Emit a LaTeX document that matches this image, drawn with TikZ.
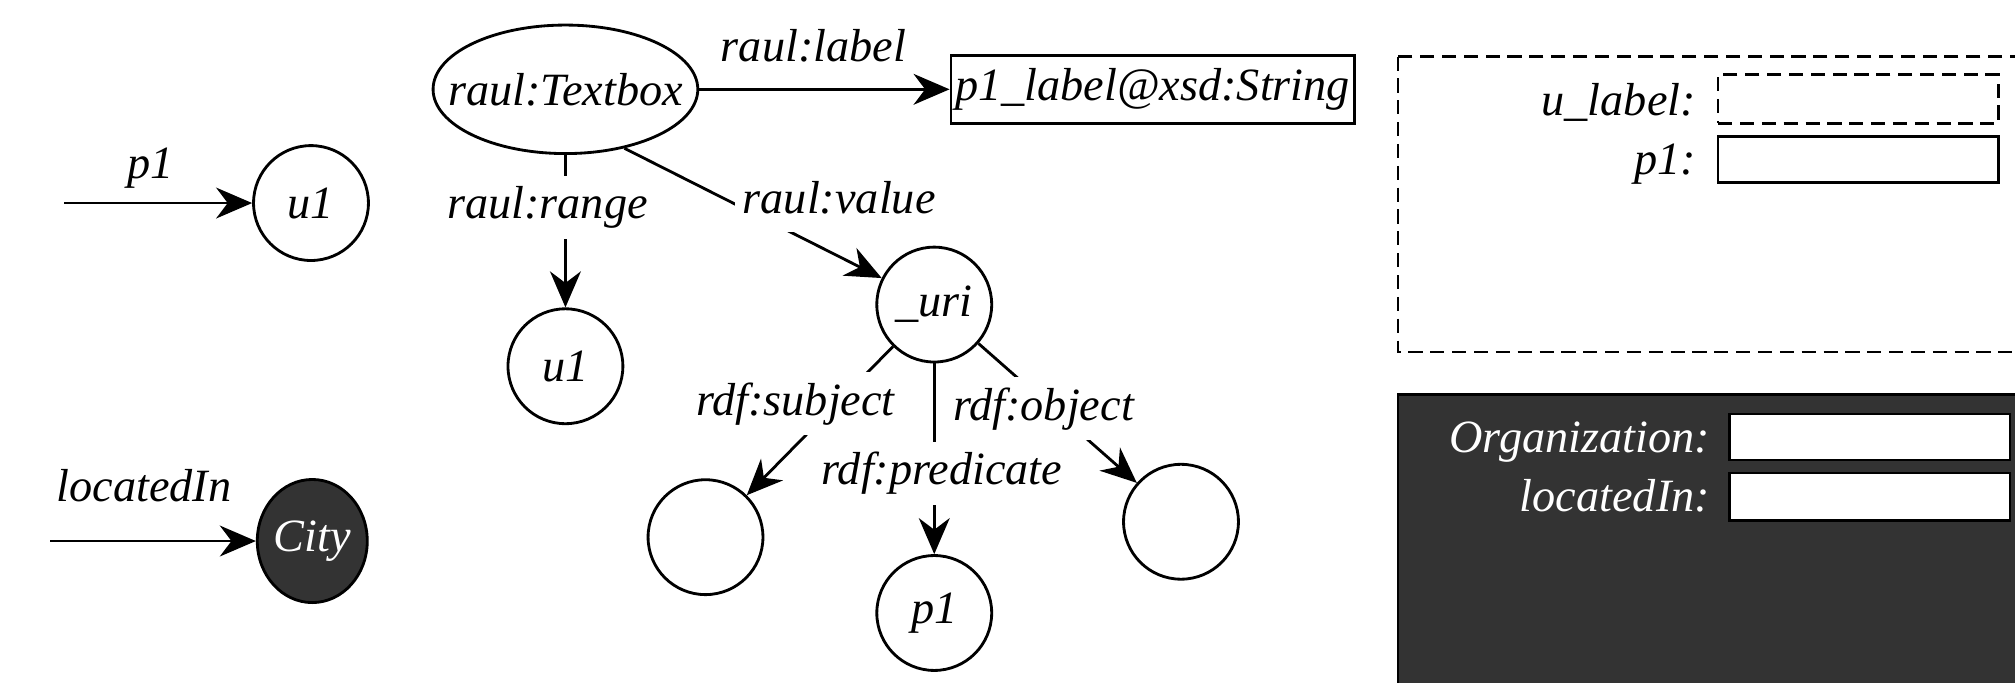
\documentclass[tikz,border=0pt]{standalone}
\usepackage{fontspec}
\setmainfont{Liberation Serif}[ItalicFont={Liberation Serif Italic}]
\usetikzlibrary{arrows.meta,shapes.geometric}
\definecolor{dk}{HTML}{333333}
\begin{document}
\begin{tikzpicture}[x=0.5pt,y=-0.5pt,
  every node/.style={font=\fontsize{18}{21}\selectfont\itshape},
  ln/.style={line width=1.1pt},
  arr/.style={ln,-{Stealth[length=14pt,width=12pt,inset=4.5pt]}},
  circ/.style={draw,line width=1.1pt,circle,minimum size=44.7pt,inner sep=0pt},
  gap/.style={fill=white,inner xsep=3pt,inner ysep=4pt,anchor=base},
  txt/.style={inner sep=0pt},
  dsh/.style={line width=1pt,dash pattern=on 5.5pt off 3pt},
  field/.style={draw,line width=1pt,minimum width=109pt,inner sep=0pt},
]
\useasboundingbox (0,0) rectangle (1568,531);
\clip (0,0) rectangle (1568,531);

% left: p1 -> u1
\coordinate (p1s) at (50,158);
\node[circ] (u1a) at (242,158) {u1};
\draw[arr] (p1s) -- (u1a);
\node[txt,anchor=base] (p1l) at (117,139) {p1};

% left: locatedIn -> City
\coordinate (lis) at (39,421);
\node[draw,ellipse,line width=1.1pt,fill=dk,text=white,minimum width=42.8pt,minimum height=47.9pt,inner sep=0pt] (city) at (243,421) {City};
\draw[arr] (lis) -- (city);
\node[txt,anchor=base] (lil) at (112,390) {locatedIn};

% Textbox
\node[draw,ellipse,ln,minimum width=103pt,minimum height=50pt,inner sep=0pt] (tb) at (440,69.5) {};
\node[txt] (tbt) at (tb) {raul:Textbox};
\node[draw,ln,minimum width=157pt,minimum height=26.5pt,inner sep=0pt] (lit) at (897,69.5) {p1\_label@xsd:String};
\draw[arr] (tb) -- (lit);
\node[txt,anchor=base] (rl) at (633,47.5) {raul:label};

% range
\node[circ] (u1b) at (440,285) {u1};
\draw[arr] (tb) -- (u1b);
\node[gap] (rr) at (426,170) {raul:range};

% value
\node[circ] (uri) at (727,237) {\_uri};
\draw[arr] (tb.-45) -- (uri);
\node[gap,inner ysep=7pt] (rv) at (653,166) {raul:value};

% reification
\node[circ] (sub) at (549,418) {};
\node[circ] (pred) at (727,477) {p1};
\node[circ] (obj) at (919,406) {};
\draw[arr] (uri) -- (sub);
\draw[arr] (uri) -- (pred);
\draw[arr] (uri) -- (obj);
\node[gap] (rs) at (619,323) {rdf:subject};
\node[gap] (rp) at (733,377) {rdf:predicate};
\node[gap] (ro) at (812,327) {rdf:object};

% right: dashed form
\draw[dsh] (1088,44) rectangle (1620,274);
\node[field,dsh,minimum height=19pt] (f1) at (1446,77) {};
\node[field,minimum height=18pt] (f2) at (1446,124) {};
\node[txt,anchor=base east] (ul) at (1320,90) {u\_label:};
\node[txt,anchor=base east] (pl) at (1320,136) {p1:};

% right: dark form
\draw[line width=1pt,fill=dk] (1088,307) rectangle (1620,560);
\node[field,fill=white,minimum height=18pt] (f3) at (1455,340) {};
\node[field,fill=white,minimum height=18.5pt] (f4) at (1455,386.5) {};
\node[txt,anchor=base east,text=white] (ol) at (1331,352) {Organization:};
\node[txt,anchor=base east,text=white] (ll) at (1331,398) {locatedIn:};
\end{tikzpicture}
\end{document}
